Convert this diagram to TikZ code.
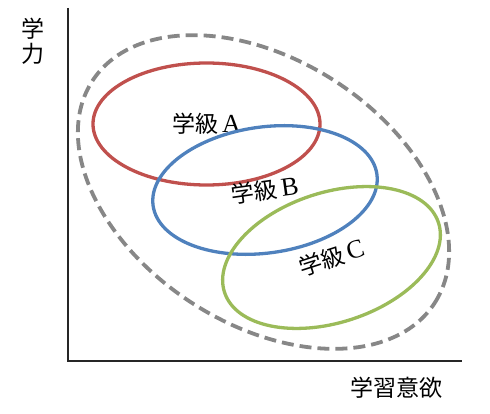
\documentclass[tikz,border=0pt]{standalone}
\usepackage{fontspec}
\setmainfont{Liberation Serif}
\newfontfamily\jafont{Noto Sans CJK JP}
\usetikzlibrary{shapes.geometric}
\definecolor{classred}{HTML}{C0504D}
\definecolor{classblue}{HTML}{4F81BD}
\definecolor{classgreen}{HTML}{9BBB59}
\definecolor{allgray}{HTML}{878787}
\newcommand{\classname}[1]{{\jafont 学級}\,{\fontsize{26}{26}\selectfont #1}}

\begin{document}
\begin{tikzpicture}[x=1pt,y=-1pt]
\tikzstyle{every node}=[font=\fontsize{23}{25}\selectfont, inner sep=0pt]
\tikzstyle{group}=[ellipse, draw, line width=3.3pt]
\tikzstyle{whole}=[ellipse, draw=allgray, dash pattern=on 12pt off 6pt, line width=3.8pt]
\useasboundingbox (0,0) rectangle (490,414);

% axes
\coordinate (ytop) at (68,8);
\coordinate (origin) at (68,361);
\coordinate (xend) at (462,361);
\draw[line width=1.5pt, black!85] (ytop) -- (origin) -- (xend);
\node[align=center, font=\fontsize{23}{25}\selectfont\jafont] (ylabel) at (33,41) {学\\力};
\node[font=\fontsize{23}{25}\selectfont\jafont] (xlabel) at (396,388) {学習意欲};

% all students
\node[whole, minimum width=408pt, minimum height=264pt, rotate=-33] (all) at (263.5,192) {};

% classes
\node[group, draw=classred, minimum width=227pt, minimum height=122pt] (classA) at (206.5,124) {\classname{A}};
\node[group, draw=classblue, minimum width=226pt, minimum height=126pt, rotate=8] (classB) at (265,190) {\classname{B}};
\node[group, draw=classgreen, minimum width=225pt, minimum height=130pt, rotate=18] (classC) at (331.5,257.5) {\classname{C}};
\end{tikzpicture}
\end{document}
